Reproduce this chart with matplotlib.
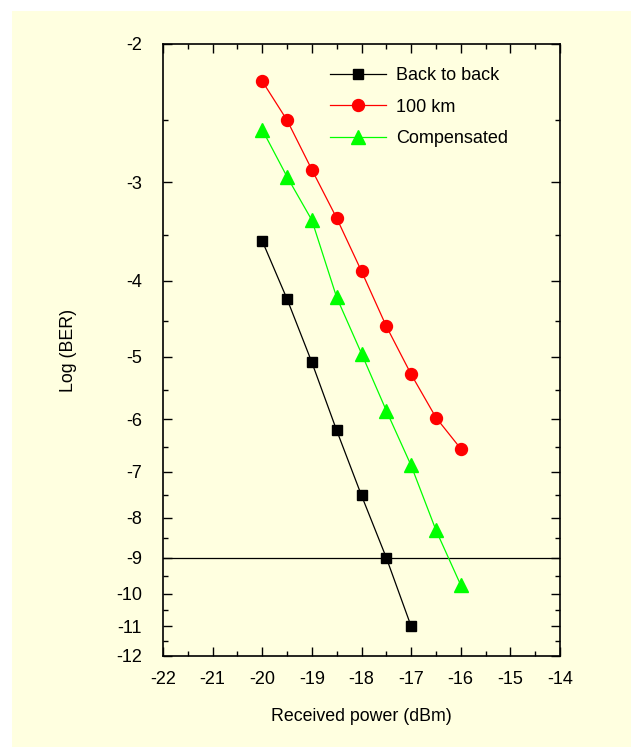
import numpy as np
import matplotlib
matplotlib.use("Agg")
import matplotlib.pyplot as plt
from matplotlib.patches import Rectangle
from matplotlib.ticker import FixedLocator, FixedFormatter

plt.rcParams['font.family'] = ['Liberation Sans', 'DejaVu Sans']
plt.rcParams['axes.unicode_minus'] = False

# data
power_b2b = [-20, -19.5, -19, -18.5, -18, -17.5, -17]
ber_b2b = [-3.56, -4.22, -5.08, -6.2, -7.5, -9.0, -11.0]

power_100 = [-20, -19.5, -19, -18.5, -18, -17.5, -17, -16.5, -16]
ber_100 = [-2.23, -2.5, -2.89, -3.33, -3.89, -4.57, -5.26, -5.97, -6.54]

power_comp = [-20, -19.5, -19, -18.5, -18, -17.5, -17, -16.5, -16]
ber_comp = [-2.57, -2.95, -3.35, -4.2, -4.95, -5.85, -6.87, -8.3, -9.75]

x_major = [-22, -21, -20, -19, -18, -17, -16, -15, -14]
y_major = [-2, -3, -4, -5, -6, -7, -8, -9, -10, -11, -12]
bg = '#FFFFE0'


def fwd(v):
    return -np.log10(-np.asarray(v, dtype=float))


def inv(u):
    return -10 ** (-np.asarray(u, dtype=float))


fig = plt.figure(figsize=(6.31, 7.47), dpi=100)
fig.patch.set_facecolor('white')
fig.patches.append(Rectangle((12 / 631, 0), 1, 1 - 11 / 747, transform=fig.transFigure,
                             facecolor=bg, edgecolor='none', zorder=-10))

ax = fig.add_axes([163 / 631, 91 / 747, 397 / 631, 612 / 747])
ax.set_facecolor(bg)
ax.set_yscale('function', functions=(fwd, inv))

ax.plot(power_b2b, ber_b2b, '-', color='black', lw=0.9, marker='s', ms=7,
        label='Back to back')
ax.plot(power_100, ber_100, '-', color='#FF0000', lw=0.9, marker='o', ms=8.6,
        label='100 km')
ax.plot(power_comp, ber_comp, '-', color='#00FF00', lw=0.9, marker='^', ms=9.5,
        label='Compensated')
ax.axhline(-9, color='black', lw=0.9, zorder=1)

ax.set_xlim(-22, -14)
ax.set_ylim(-12, -2)
ax.xaxis.set_major_locator(FixedLocator(x_major))
ax.xaxis.set_major_formatter(FixedFormatter([str(v) for v in x_major]))
ax.xaxis.set_minor_locator(FixedLocator(np.arange(-21.5, -14, 1.0)))
ax.yaxis.set_major_locator(FixedLocator(y_major))
ax.yaxis.set_major_formatter(FixedFormatter([str(v) for v in y_major]))
ax.yaxis.set_minor_locator(FixedLocator(np.arange(-11.5, -2, 1.0)))
ax.yaxis.set_minor_formatter(FixedFormatter([]))

ax.tick_params(which='both', direction='in', top=True, right=True, width=1.0)
ax.tick_params(which='major', length=6.5)
ax.tick_params(which='minor', length=3.5)
ax.tick_params(axis='x', which='major', pad=11, labelsize=13)
ax.tick_params(axis='y', which='major', pad=15, labelsize=13)
for s in ax.spines.values():
    s.set_linewidth(1.2)

ax.set_xlabel('Received power (dBm)', fontsize=12.8, labelpad=14)
ax.set_ylabel('Log (BER)', fontsize=12.8, labelpad=28)

ax.legend(loc='upper left', bbox_to_anchor=(0.42, 0.962), frameon=False,
          fontsize=13, handlelength=3.1, handletextpad=0.55, labelspacing=0.8,
          borderaxespad=0, borderpad=0)

fig.savefig('out.png', dpi=100, facecolor=fig.get_facecolor())
